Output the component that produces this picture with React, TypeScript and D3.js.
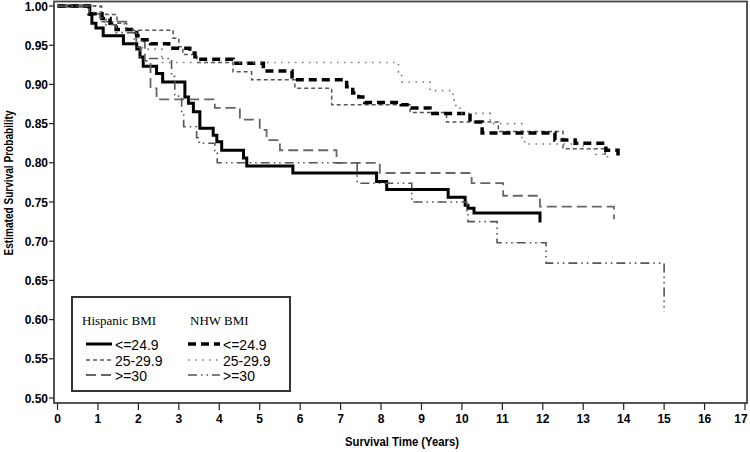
import { useEffect, useRef } from 'react';
import * as d3 from 'd3';

// step data: [time in years, survival after the drop at that time]
const hispLow: [number, number][] = [
  [0, 1], [0.8, 0.989], [0.85, 0.978], [0.95, 0.972], [1.13, 0.962], [1.63, 0.952],
  [1.96, 0.945], [2.04, 0.935], [2.12, 0.923], [2.45, 0.914], [2.6, 0.903], [3.15, 0.884],
  [3.24, 0.876], [3.36, 0.865], [3.52, 0.844], [3.85, 0.835], [3.94, 0.827], [4.06, 0.816],
  [4.6, 0.806], [4.68, 0.796], [5.82, 0.787], [7.89, 0.776], [8.14, 0.766], [9.66, 0.756],
  [10.08, 0.746], [10.15, 0.742], [10.3, 0.736], [11.93, 0.724],
];
const hispMid: [number, number][] = [
  [0, 1], [1.09, 0.989], [1.47, 0.978], [1.71, 0.969], [2.86, 0.959], [3.0, 0.948],
  [3.1, 0.938], [3.45, 0.928], [4.34, 0.916], [4.8, 0.906], [5.87, 0.895], [6.78, 0.874],
  [8.72, 0.864], [9.62, 0.852], [10.9, 0.84], [12.5, 0.818], [13.54, 0.81],
];
const hispHigh: [number, number][] = [
  [0, 1], [0.78, 0.99], [1.1, 0.98], [1.7, 0.97], [1.95, 0.955], [2.16, 0.93], [2.3, 0.895],
  [2.45, 0.881], [3.89, 0.87], [4.51, 0.855], [5.0, 0.842], [5.17, 0.829], [5.5, 0.816],
  [6.9, 0.8], [7.97, 0.787], [10.24, 0.774], [11.02, 0.758], [11.93, 0.744], [13.76, 0.728],
];
const nhwLow: [number, number][] = [
  [0, 1], [0.78, 0.99], [1.1, 0.984], [1.3, 0.978], [1.45, 0.97], [1.96, 0.962], [2.1, 0.957],
  [2.3, 0.952], [2.75, 0.946], [3.27, 0.94], [3.4, 0.932], [4.34, 0.927], [5.09, 0.917],
  [5.8, 0.906], [7.15, 0.897], [7.3, 0.889], [7.45, 0.884], [7.6, 0.877], [8.5, 0.874],
  [8.72, 0.87], [9.21, 0.863], [10.2, 0.852], [10.5, 0.838], [12.3, 0.829], [12.8, 0.825],
  [13.56, 0.816], [13.86, 0.804],
];
const nhwMid: [number, number][] = [
  [0, 1], [0.9, 0.99], [1.2, 0.98], [1.65, 0.97], [1.95, 0.955], [2.1, 0.945], [2.58, 0.928],
  [8.43, 0.916], [8.51, 0.903], [9.21, 0.892], [9.78, 0.88], [9.85, 0.872], [9.95, 0.863],
  [10.7, 0.85], [11.48, 0.829], [11.55, 0.824], [13.0, 0.818], [13.3, 0.811], [13.6, 0.804],
];
const nhwHigh: [number, number][] = [
  [0, 1], [1.05, 0.985], [1.2, 0.976], [1.45, 0.966], [1.9, 0.948], [2.05, 0.933], [2.82, 0.91],
  [2.9, 0.885], [3.07, 0.861], [3.12, 0.846], [3.44, 0.832], [3.5, 0.825], [3.89, 0.812],
  [3.95, 0.8], [7.41, 0.774], [8.76, 0.75], [10.12, 0.737], [10.15, 0.725], [10.87, 0.698],
  [12.08, 0.672], [15.0, 0.61],
];

const xTicks = d3.range(0, 18);
const yTicks = d3.range(0.5, 1.0001, 0.05);
const legendLabels = ['<=24.9', '25-29.9', '>=30'];

const styles = [
  { data: hispLow, color: '#000', width: 3, dash: null },
  { data: hispMid, color: '#555', width: 1.5, dash: '4,3' },
  { data: hispHigh, color: '#666', width: 1.8, dash: '10,5' },
  { data: nhwLow, color: '#000', width: 3.5, dash: '8,5' },
  { data: nhwMid, color: '#777', width: 1.6, dash: '1.5,5.5' },
  { data: nhwHigh, color: '#555', width: 1.6, dash: '9,4,1.5,4,1.5,4' },
];

function App() {
  const ref = useRef<SVGSVGElement>(null);

  useEffect(() => {
    const svg = d3.select(ref.current);
    svg.selectAll('*').remove();

    const x = d3.scaleLinear().domain([0, 17]).range([57.5, 745]);
    const y = d3.scaleLinear().domain([0.5, 1.0]).range([398, 6]);
    const font = 'Liberation Sans, Arial, sans-serif';

    // frame
    svg.append('rect')
      .attr('x', 54).attr('y', 1.5).attr('width', 747 - 54).attr('height', 403 - 1.5)
      .attr('fill', 'none').attr('stroke', '#444').attr('stroke-width', 1.8);

    // y axis ticks
    const yAxis = svg.append('g');
    yTicks.forEach((v) => {
      yAxis.append('line')
        .attr('x1', 49).attr('x2', 54).attr('y1', y(v)).attr('y2', y(v))
        .attr('stroke', '#222').attr('stroke-width', 1.2);
      yAxis.append('text')
        .attr('x', 48).attr('y', y(v) + 4.5)
        .attr('text-anchor', 'end')
        .style('font', `bold 12px ${font}`)
        .text(v.toFixed(2));
    });

    // x axis ticks
    const xAxis = svg.append('g');
    xTicks.forEach((t) => {
      xAxis.append('line')
        .attr('x1', x(t)).attr('x2', x(t)).attr('y1', 403).attr('y2', 410)
        .attr('stroke', '#222').attr('stroke-width', 1.2);
      xAxis.append('text')
        .attr('x', Math.min(x(t), 741)).attr('y', 423)
        .attr('text-anchor', 'middle')
        .style('font', `bold 12px ${font}`)
        .text(String(t));
    });

    svg.append('text')
      .attr('x', 402).attr('y', 446)
      .attr('text-anchor', 'middle')
      .attr('textLength', 114).attr('lengthAdjust', 'spacingAndGlyphs')
      .style('font', `bold 12px ${font}`)
      .text('Survival Time (Years)');

    svg.append('text')
      .attr('transform', 'translate(13, 183) rotate(-90)')
      .attr('text-anchor', 'middle')
      .attr('textLength', 145).attr('lengthAdjust', 'spacingAndGlyphs')
      .style('font', `bold 13px ${font}`)
      .text('Estimated Survival Probability');

    // curves
    const line = d3.line<[number, number]>()
      .x((d) => x(d[0]))
      .y((d) => y(d[1]))
      .curve(d3.curveStepAfter);

    styles.forEach((s) => {
      svg.append('path')
        .attr('d', line(s.data))
        .attr('fill', 'none')
        .attr('stroke', s.color)
        .attr('stroke-width', s.width)
        .attr('stroke-dasharray', s.dash);
    });

    // legend
    const lg = svg.append('g');
    lg.append('rect')
      .attr('x', 72).attr('y', 297).attr('width', 218).attr('height', 94)
      .attr('fill', 'white').attr('stroke', '#333').attr('stroke-width', 2);
    lg.append('text').attr('x', 82).attr('y', 325)
      .style('font', '13px Liberation Serif, Times New Roman, serif').text('Hispanic BMI');
    lg.append('text').attr('x', 190).attr('y', 325)
      .style('font', '13px Liberation Serif, Times New Roman, serif').text('NHW BMI');

    const rowY = [344, 360, 375];
    legendLabels.forEach((lab, i) => {
      [0, 1].forEach((col) => {
        const s = styles[col * 3 + i];
        const x0 = col === 0 ? 86 : 188;
        const x1 = col === 0 ? 112 : 220;
        lg.append('line')
          .attr('x1', x0).attr('x2', x1).attr('y1', rowY[i]).attr('y2', rowY[i])
          .attr('stroke', s.color).attr('stroke-width', s.width)
          .attr('stroke-dasharray', s.dash);
        lg.append('text')
          .attr('x', col === 0 ? 115 : 223).attr('y', rowY[i] + 5.5)
          .style('font', `14px ${font}`)
          .text(lab);
      });
    });
  }, []);

  return (
    <svg ref={ref} width={750} height={452}
      style={{ position: 'absolute', left: 0, top: 0, background: 'white' }} />
  );
}

export default App;
